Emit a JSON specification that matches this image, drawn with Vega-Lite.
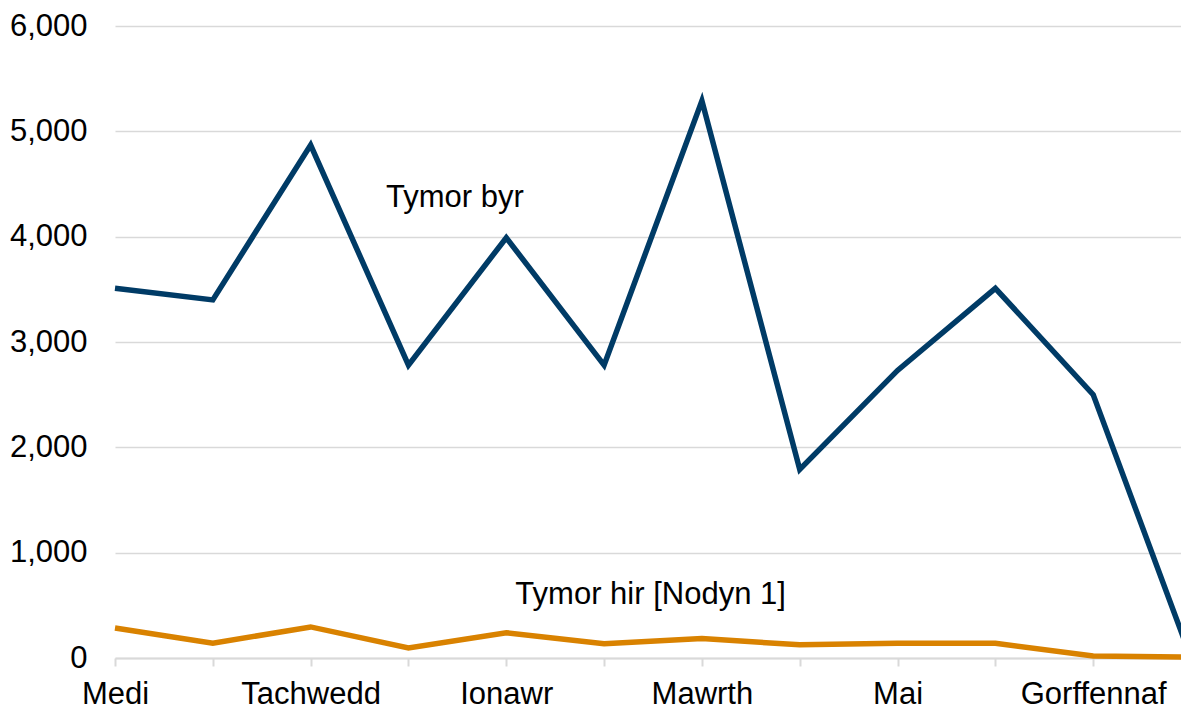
{
  "$schema": "https://vega.github.io/schema/vega-lite/v6.json",
  "width": 1066,
  "height": 632,
  "autosize": {"type": "none"},
  "padding": {"left": 115, "top": 26, "right": 0, "bottom": 51},
  "config": {"view": {"stroke": null}, "font": "Liberation Sans"},
  "datasets": {
    "series": [
      {"month": "Medi", "series": "Tymor byr", "value": 3510},
      {"month": "Hydref", "series": "Tymor byr", "value": 3400},
      {"month": "Tachwedd", "series": "Tymor byr", "value": 4870},
      {"month": "Rhagfyr", "series": "Tymor byr", "value": 2780},
      {"month": "Ionawr", "series": "Tymor byr", "value": 3990},
      {"month": "Chwefror", "series": "Tymor byr", "value": 2780},
      {"month": "Mawrth", "series": "Tymor byr", "value": 5290},
      {"month": "Ebrill", "series": "Tymor byr", "value": 1790},
      {"month": "Mai", "series": "Tymor byr", "value": 2730},
      {"month": "Mehefin", "series": "Tymor byr", "value": 3510},
      {"month": "Gorffennaf", "series": "Tymor byr", "value": 2500},
      {"month": "Awst", "series": "Tymor byr", "value": 0},
      {"month": "Medi", "series": "Tymor hir", "value": 285},
      {"month": "Hydref", "series": "Tymor hir", "value": 140},
      {"month": "Tachwedd", "series": "Tymor hir", "value": 295},
      {"month": "Rhagfyr", "series": "Tymor hir", "value": 95},
      {"month": "Ionawr", "series": "Tymor hir", "value": 240},
      {"month": "Chwefror", "series": "Tymor hir", "value": 135},
      {"month": "Mawrth", "series": "Tymor hir", "value": 185},
      {"month": "Ebrill", "series": "Tymor hir", "value": 125},
      {"month": "Mai", "series": "Tymor hir", "value": 140},
      {"month": "Mehefin", "series": "Tymor hir", "value": 140},
      {"month": "Gorffennaf", "series": "Tymor hir", "value": 20},
      {"month": "Awst", "series": "Tymor hir", "value": 8}
    ],
    "labels": [
      {"month": "Rhagfyr", "value": 4280, "label": "Tymor byr"},
      {"month": "Chwefror", "value": 513, "label": "Tymor hir [Nodyn 1]"}
    ]
  },
  "encoding": {
    "x": {
      "field": "month",
      "type": "ordinal",
      "scale": {
        "type": "point",
        "domain": ["Medi", "Hydref", "Tachwedd", "Rhagfyr", "Ionawr", "Chwefror", "Mawrth", "Ebrill", "Mai", "Mehefin", "Gorffennaf", "Awst"],
        "range": [0, 1076],
        "padding": 0
      },
      "axis": {
        "title": null,
        "labelAngle": 0,
        "labelFontSize": 31,
        "labelColor": "#000000",
        "labelExpr": "indexof(['Medi','Tachwedd','Ionawr','Mawrth','Mai','Gorffennaf'], datum.value) >= 0 ? datum.value : ''",
        "domainColor": "#D9D9D9",
        "domainWidth": 2,
        "tickColor": "#D9D9D9",
        "tickWidth": 2,
        "tickSize": 8,
        "labelPadding": 13,
        "grid": false
      }
    },
    "y": {
      "field": "value",
      "type": "quantitative",
      "scale": {"domain": [0, 6000], "nice": false},
      "axis": {
        "title": null,
        "values": [0, 1000, 2000, 3000, 4000, 5000, 6000],
        "format": ",d",
        "labelFontSize": 31,
        "labelColor": "#000000",
        "labelPadding": 28,
        "domain": false,
        "ticks": false,
        "grid": true,
        "gridColor": "#D9D9D9",
        "gridWidth": 1.5
      }
    }
  },
  "layer": [
    {
      "data": {"name": "series"},
      "mark": {"type": "line", "strokeWidth": 5.5, "strokeJoin": "miter", "clip": false},
      "encoding": {
        "color": {
          "field": "series",
          "type": "nominal",
          "scale": {"domain": ["Tymor byr", "Tymor hir"], "range": ["#003B66", "#D98200"]},
          "legend": null
        }
      }
    },
    {
      "data": {"name": "labels"},
      "mark": {"type": "text", "fontSize": 31, "color": "#000000", "align": "center", "baseline": "alphabetic", "dx": 46.5},
      "encoding": {
        "text": {"field": "label", "type": "nominal"}
      }
    }
  ]
}
